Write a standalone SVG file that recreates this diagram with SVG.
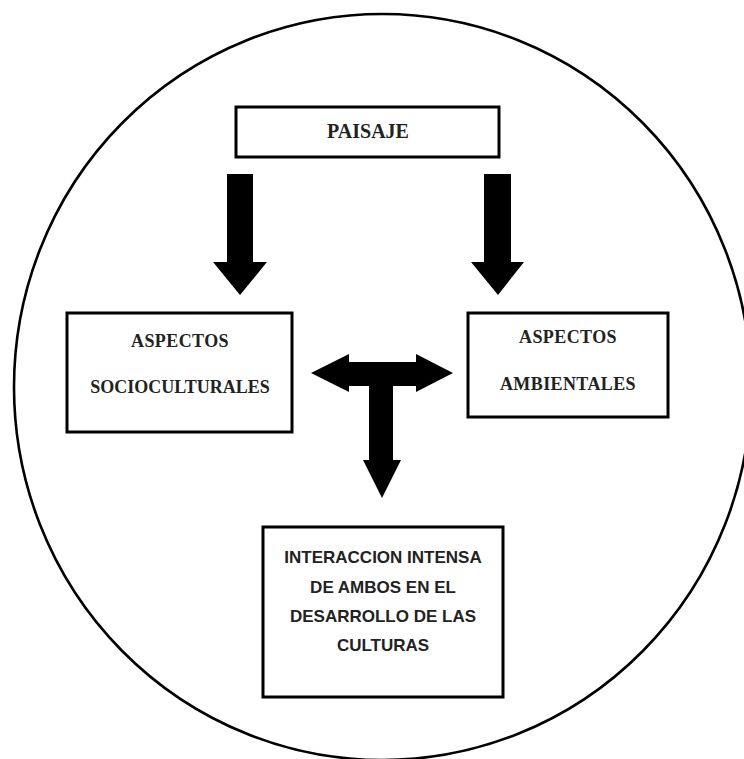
<svg xmlns="http://www.w3.org/2000/svg" width="744" height="759" viewBox="0 0 744 759">
<style>
.box{fill:#fff;stroke:#000;stroke-width:3}
.ser{font-family:"Liberation Serif","Times New Roman",serif;font-weight:bold;fill:#222;text-anchor:middle}
.san{font-family:"Liberation Sans",Arial,sans-serif;font-weight:bold;fill:#222;text-anchor:middle;font-size:17px}
.arr{fill:#000}
</style>
<rect width="744" height="759" fill="#fff"/>
<ellipse cx="382.5" cy="387" rx="368.5" ry="373" fill="none" stroke="#000" stroke-width="2.6"/>
<g id="paisaje">
<rect class="box" x="236" y="107" width="263" height="50"/>
<text class="ser" x="368" y="138" font-size="20">PAISAJE</text>
</g>
<g id="socioculturales">
<rect class="box" x="67" y="313" width="225" height="119"/>
<text class="ser" x="180" y="347" font-size="18" letter-spacing="0.4">ASPECTOS</text>
<text class="ser" x="180" y="393" font-size="18">SOCIOCULTURALES</text>
</g>
<g id="ambientales">
<rect class="box" x="468" y="313" width="200" height="104"/>
<text class="ser" x="568" y="343" font-size="18" letter-spacing="0.4">ASPECTOS</text>
<text class="ser" x="568" y="390" font-size="18" letter-spacing="0.4">AMBIENTALES</text>
</g>
<g id="interaccion">
<rect class="box" x="263" y="527" width="240" height="170"/>
<text class="san" x="383" y="563">INTERACCION INTENSA</text>
<text class="san" x="383" y="593">DE AMBOS EN EL</text>
<text class="san" x="383" y="622">DESARROLLO DE LAS</text>
<text class="san" x="383" y="651">CULTURAS</text>
</g>
<g id="connectors">
<polygon class="arr" points="227,174 253,174 253,262 267,262 240,295 213,262 227,262"/>
<polygon class="arr" points="484,174 511,174 511,262 524,262 498,295 471,262 484,262"/>
<polygon class="arr" points="311,373 349,354 349,362 416,362 416,354 453,373 416,392 416,386 393,386 393,460 401,460 382,498 363,460 369,460 369,386 349,386 349,392"/>
</g>
</svg>
